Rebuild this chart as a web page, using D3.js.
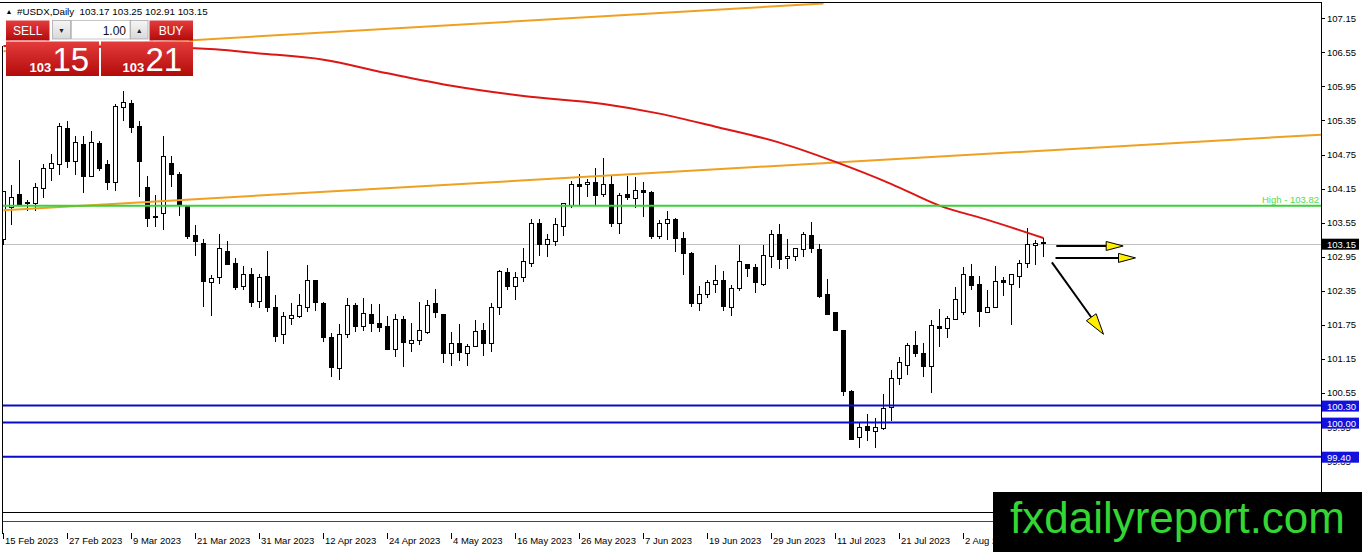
<!DOCTYPE html>
<html><head><meta charset="utf-8">
<script src="https://cdn.jsdelivr.net/npm/d3@7"></script>
<style>
html,body{margin:0;padding:0;background:#fff;overflow:hidden}
svg{display:block}
text{font-family:"Liberation Sans",Arial,sans-serif}
</style></head><body>
<svg id="c" width="1362" height="552"></svg>
<script>
// ---- data ----
const opens = [103.22,103.78,104.01,103.88,103.86,104.13,104.48,104.55,105.18,104.59,104.90,104.33,104.92,104.55,104.23,105.55,105.62,105.21,104.14,103.63,103.69,104.57,104.36,103.80,103.29,103.16,102.46,102.56,103.02,102.81,102.40,102.60,102.14,102.58,102.02,101.55,101.84,101.87,102.03,102.50,102.10,101.49,100.96,101.56,102.06,101.69,101.90,101.75,101.70,101.29,101.81,101.40,101.45,101.59,102.09,101.90,101.21,101.40,101.22,101.34,101.63,101.40,102.03,102.65,102.39,102.56,102.81,103.50,103.14,103.19,103.46,103.83,104.19,104.20,104.22,104.02,104.19,103.51,104.01,103.95,104.09,104.06,103.28,103.51,103.58,103.25,102.97,102.10,102.25,102.44,102.50,102.03,102.37,102.79,102.73,102.44,102.92,103.31,102.89,102.92,103.05,103.29,103.04,102.25,101.93,101.62,100.54,99.73,99.93,99.84,99.89,100.26,100.77,101.01,101.35,101.22,100.98,101.70,101.65,101.82,101.94,102.57,102.44,101.94,102.03,102.51,102.44,102.57,102.80,103.12,103.17];
const highs = [104.07,104.19,104.63,103.92,104.22,104.55,104.73,105.28,105.31,105.04,105.04,105.14,104.96,104.63,105.61,105.84,105.68,105.31,104.35,104.01,105.04,104.70,104.42,103.84,103.48,103.24,102.60,103.32,103.20,102.90,102.75,102.73,102.61,103.02,102.25,101.95,102.10,102.26,102.78,102.51,102.12,101.58,101.73,102.20,102.10,102.20,102.09,102.09,101.88,101.92,101.87,101.76,102.13,102.16,102.35,101.90,101.59,101.74,101.39,101.80,101.76,102.10,102.68,102.72,102.66,103.07,103.58,103.58,103.32,103.60,103.87,104.26,104.38,104.29,104.48,104.66,104.36,104.04,104.34,104.32,104.24,104.07,103.56,103.72,103.60,103.35,103.01,102.40,102.51,102.77,102.67,102.43,103.13,102.80,102.79,103.12,103.39,103.49,103.24,103.08,103.35,103.53,103.14,102.53,101.93,101.63,100.58,99.99,100.15,100.09,100.51,100.93,101.16,101.41,101.62,101.41,101.81,102.00,101.88,102.38,102.74,102.80,102.58,102.34,102.76,102.56,102.62,102.87,103.42,103.22,103.25];
const lows = [103.13,103.48,103.81,103.72,103.72,103.96,104.26,104.36,104.49,104.36,104.04,104.32,104.43,104.10,104.07,105.31,105.10,103.98,103.44,103.45,103.40,104.14,103.64,103.24,102.94,102.03,101.87,102.44,102.78,102.34,102.34,102.03,102.02,101.94,101.42,101.38,101.71,101.84,101.95,101.96,101.42,100.81,100.75,101.49,101.59,101.62,101.59,101.60,101.27,101.15,100.98,101.24,101.37,101.56,101.84,101.05,101.00,101.08,100.99,101.33,101.18,101.25,101.89,102.34,102.16,102.48,102.74,102.94,102.91,103.11,103.29,103.78,103.83,103.98,103.83,103.97,103.45,103.32,103.92,103.78,103.62,103.23,103.23,103.21,103.01,102.60,102.04,101.96,102.20,102.28,101.97,101.87,102.32,102.56,102.28,102.41,102.73,102.71,102.71,102.85,102.91,102.98,102.19,101.91,101.62,100.46,99.70,99.55,99.67,99.55,99.87,100.02,100.67,100.84,101.15,100.81,100.52,101.33,101.49,101.81,101.90,102.33,101.69,101.93,102.02,102.23,101.72,102.37,102.72,102.78,102.91];
const closes = [104.07,103.97,103.84,103.85,104.14,104.48,104.57,105.21,104.60,104.94,104.33,104.94,104.48,104.22,105.57,105.64,105.20,104.59,103.59,103.62,104.69,104.37,103.83,103.28,103.18,102.49,102.54,103.07,102.79,102.38,102.61,102.12,102.56,102.03,101.52,101.86,101.89,102.06,102.51,102.12,101.49,100.97,101.55,102.06,101.69,101.92,101.75,101.68,101.28,101.81,101.41,101.44,101.63,102.07,101.93,101.22,101.40,101.24,101.34,101.60,101.40,102.03,102.66,102.40,102.56,102.84,103.51,103.13,103.22,103.48,103.86,104.19,104.16,104.23,104.00,104.19,103.51,103.99,103.97,104.09,104.06,103.27,103.51,103.58,103.25,102.98,102.09,102.26,102.46,102.50,102.04,102.36,102.83,102.72,102.47,102.94,103.32,102.88,102.93,103.06,103.32,103.07,102.22,101.91,101.62,100.55,99.71,99.92,99.87,99.92,100.24,100.78,101.05,101.35,101.21,100.99,101.71,101.66,101.84,102.17,102.60,102.41,101.96,102.03,102.48,102.46,102.60,102.81,103.13,103.16,103.15];

const maBars   = [0, 24, 32, 40, 48, 56, 65, 75, 82, 89, 97, 104, 111, 117, 123, 130];
const maValues = [106.63,106.59,106.50,106.39,106.15,105.93,105.75,105.61,105.44,105.21,104.93,104.59,104.20,103.82,103.57,103.25];

const priceTicks = [107.15,106.55,105.95,105.35,104.75,104.15,103.55,102.95,102.35,101.75,101.15,100.55,99.95,99.35];
const timeLabels = ["15 Feb 2023","27 Feb 2023","9 Mar 2023","21 Mar 2023","31 Mar 2023","12 Apr 2023","24 Apr 2023","4 May 2023","16 May 2023","26 May 2023","7 Jun 2023","19 Jun 2023","29 Jun 2023","11 Jul 2023","21 Jul 2023","2 Aug 2023"];
const timeLabelBars = [0,8,16,24,32,40,48,56,64,72,80,88,96,104,112,120];

const supportLevels = [100.30, 100.00, 99.40];
const highLevel = 103.82;
const lastPrice = 103.15;
const trendUpper = [[0,106.54],[102.5,107.38]];
const trendLower = [[0,103.74],[164.7,105.07]];
const arrowsData = [[131.6,103.11,139.96,103.11],[131.5,102.90,141.5,102.90],[131.05,102.82,137.5,101.555]];
const header = "#USDX,Daily  103.17 103.25 102.91 103.15";

// ---- scales ----
const svg = d3.select('#c');
const x = d3.scaleLinear().domain([0,130]).range([3.5,1043.5]);
const y = d3.scaleLinear().domain([107.15,99.35]).range([16.5,16.5+7.8*56.8]);

const defs = svg.append('defs');
defs.append('clipPath').attr('id','plot').append('rect').attr('x',3).attr('y',3).attr('width',1318).attr('height',509);
const gr = defs.append('linearGradient').attr('id','red').attr('x1',0).attr('y1',0).attr('x2',0).attr('y2',1);
gr.append('stop').attr('offset','0%').attr('stop-color','#e43c3c');
gr.append('stop').attr('offset','100%').attr('stop-color','#b30a0a');
const gg = defs.append('linearGradient').attr('id','gry').attr('x1',0).attr('y1',0).attr('x2',0).attr('y2',1);
gg.append('stop').attr('offset','0%').attr('stop-color','#f6f6f6');
gg.append('stop').attr('offset','100%').attr('stop-color','#d8d8d8');

const plot = svg.append('g').attr('clip-path','url(#plot)');

// bid line
plot.append('line').attr('x1',3).attr('x2',1321).attr('y1',Math.round(y(lastPrice))+0.5).attr('y2',Math.round(y(lastPrice))+0.5)
  .attr('stroke','#c0c0c0').attr('stroke-width',1);

// candles
const idx = d3.range(opens.length);
const cg = plot.append('g').attr('shape-rendering','crispEdges');
cg.selectAll('line.w').data(idx).join('line').attr('class','w')
  .attr('x1',i=>x(i)).attr('x2',i=>x(i))
  .attr('y1',i=>y(highs[i])).attr('y2',i=>y(lows[i]))
  .attr('stroke','#000').attr('stroke-width',1);
cg.selectAll('rect.b').data(idx).join('rect').attr('class','b')
  .attr('x',i=>x(i)-2).attr('width',4)
  .attr('y',i=>y(Math.max(opens[i],closes[i])))
  .attr('height',i=>Math.max(1,Math.abs(y(opens[i])-y(closes[i]))))
  .attr('fill',i=>closes[i]>=opens[i]?'#fff':'#000')
  .attr('stroke','#000').attr('stroke-width',1);

// trend lines
const ln = d3.line().x(d=>x(d[0])).y(d=>y(d[1]));
plot.append('path').attr('d',ln(trendUpper)).attr('fill','none').attr('stroke','#f0a020').attr('stroke-width',2);
plot.append('path').attr('d',ln(trendLower)).attr('fill','none').attr('stroke','#f0a020').attr('stroke-width',2);

// moving average
const ma = maBars.map((b,k)=>[b,maValues[k]]);
plot.append('path').attr('d',d3.line().x(d=>x(d[0])).y(d=>y(d[1])).curve(d3.curveMonotoneX)(ma))
  .attr('fill','none').attr('stroke','#dd1515').attr('stroke-width',2);

// high level
plot.append('line').attr('x1',3).attr('x2',1321).attr('y1',y(highLevel)).attr('y2',y(highLevel))
  .attr('stroke','#3ad23a').attr('stroke-width',2);
svg.append('text').attr('x',1319).attr('y',y(highLevel)-2.5).attr('text-anchor','end')
  .attr('font-size',9.5).attr('fill','#4fdc4f').text('High - ' + highLevel.toFixed(2));

// support levels
plot.selectAll('line.s').data(supportLevels).join('line').attr('class','s')
  .attr('x1',3).attr('x2',1321).attr('y1',d=>y(d)).attr('y2',d=>y(d))
  .attr('stroke','#0a0ac8').attr('stroke-width',2);

// arrows
arrowsData.forEach((a,k)=>{
  const x1=x(a[0]),y1=y(a[1]),x2=x(a[2]),y2=y(a[3]);
  const dx=x2-x1,dy=y2-y1,L=Math.hypot(dx,dy),ux=dx/L,uy=dy/L;
  const hl = k===2?21:17, hw = k===2?6:4.5;
  const bx=x2-ux*hl, by=y2-uy*hl;
  svg.append('line').attr('x1',x1).attr('y1',y1).attr('x2',bx).attr('y2',by).attr('stroke','#000').attr('stroke-width',2);
  svg.append('path').attr('d',`M${x2},${y2}L${bx-uy*hw},${by+ux*hw}L${bx+uy*hw},${by-ux*hw}Z`)
    .attr('fill','#ffee00').attr('stroke','#000').attr('stroke-width',1);
});

// frame
const fr = svg.append('g').attr('shape-rendering','crispEdges').attr('stroke','#000').attr('stroke-width',1);
fr.append('line').attr('x1',0).attr('x2',1322).attr('y1',2.5).attr('y2',2.5);
fr.append('line').attr('x1',2.5).attr('x2',2.5).attr('y1',46).attr('y2',534);
fr.append('line').attr('x1',1321.5).attr('x2',1321.5).attr('y1',2).attr('y2',534);
fr.append('line').attr('x1',3).attr('x2',1321).attr('y1',512.5).attr('y2',512.5);
svg.append('line').attr('x1',3).attr('x2',1321).attr('y1',521.5).attr('y2',521.5).attr('stroke','#c81010').attr('stroke-width',1).attr('shape-rendering','crispEdges');

// price axis
const ax = svg.append('g');
const tagged = [lastPrice].concat(supportLevels);
priceTicks.forEach(v=>{
  const yy = y(v)+1.7;
  ax.append('line').attr('x1',1321).attr('x2',1325).attr('y1',Math.round(yy)+0.5).attr('y2',Math.round(yy)+0.5).attr('stroke','#000').attr('shape-rendering','crispEdges');
  // labels that sit right under a level tag show only their lower sliver, as in the reference
  const hidden = tagged.find(t=>Math.abs(y(t)-y(v))<8);
  const t = ax.append('text').attr('x',1327).attr('y',yy+3.4).attr('font-size',9.5).attr('fill','#000').text(v.toFixed(2));
  if (hidden!==undefined){
    const id='cl'+String(v).replace('.','_');
    defs.append('clipPath').attr('id',id).append('rect').attr('x',1322).attr('y',y(hidden)+6).attr('width',40).attr('height',4);
    t.attr('clip-path',`url(#${id})`);
  }
});
function tag(v,bg){
  const yy=y(v)+0.5;
  ax.append('rect').attr('x',1322).attr('y',yy-5.5).attr('width',37).attr('height',11).attr('fill',bg);
  ax.append('text').attr('x',1327).attr('y',yy+3.5).attr('font-size',9.5).attr('fill','#fff').text(v.toFixed(2));
}
tag(lastPrice,'#000');
supportLevels.forEach(v=>tag(v,'#1212dc'));

// time axis
timeLabels.forEach((t,k)=>{
  const xx = x(timeLabelBars[k]);
  svg.append('line').attr('x1',Math.round(xx)-0.5).attr('x2',Math.round(xx)-0.5).attr('y1',533).attr('y2',539).attr('stroke','#000').attr('shape-rendering','crispEdges');
  svg.append('text').attr('x',xx+1.5).attr('y',544).attr('font-size',9.5).attr('fill','#000').text(t);
});

// header
svg.append('text').attr('x',5.5).attr('y',13.5).attr('font-size',7).attr('fill','#000').text('▲');
svg.append('text').attr('x',17).attr('y',14.5).attr('font-size',9.8).attr('fill','#000').attr('xml:space','preserve').text(header);

// one-click trading panel
const p = svg.append('g');
p.append('rect').attr('x',6).attr('y',20.5).attr('width',43.5).attr('height',20).attr('fill','url(#red)');
p.append('rect').attr('x',149.5).attr('y',20.5).attr('width',43.5).attr('height',20).attr('fill','url(#red)');
p.append('rect').attr('x',6).attr('y',41.5).attr('width',93).attr('height',34.5).attr('fill','url(#red)');
p.append('rect').attr('x',101).attr('y',41.5).attr('width',92).attr('height',34.5).attr('fill','url(#red)');
p.append('line').attr('x1',10).attr('x2',46).attr('y1',41).attr('y2',41).attr('stroke','#f3b0b0').attr('stroke-width',0.8);
p.append('line').attr('x1',153).attr('x2',189).attr('y1',41).attr('y2',41).attr('stroke','#f3b0b0').attr('stroke-width',0.8);
p.append('rect').attr('x',52.5).attr('y',20.5).attr('width',18).attr('height',18.5).attr('fill','url(#gry)').attr('stroke','#a8a8a8').attr('stroke-width',0.8);
p.append('rect').attr('x',71.5).attr('y',20.5).attr('width',58.5).attr('height',18.5).attr('fill','#fff').attr('stroke','#b8b8b8').attr('stroke-width',0.8);
p.append('rect').attr('x',130.5).attr('y',20.5).attr('width',17.5).attr('height',18.5).attr('fill','url(#gry)').attr('stroke','#a8a8a8').attr('stroke-width',0.8);
p.append('text').attr('x',61.5).attr('y',32.5).attr('text-anchor','middle').attr('font-size',7).attr('fill','#222').text('▼');
p.append('text').attr('x',139.3).attr('y',32.5).attr('text-anchor','middle').attr('font-size',7).attr('fill','#222').text('▲');
p.append('text').attr('x',126).attr('y',34.5).attr('text-anchor','end').attr('font-size',12).attr('fill','#111').text('1.00');
p.append('text').attr('x',27.7).attr('y',35).attr('text-anchor','middle').attr('font-size',12).attr('fill','#fff').text('SELL');
p.append('text').attr('x',171).attr('y',35).attr('text-anchor','middle').attr('font-size',12).attr('fill','#fff').text('BUY');
p.append('text').attr('x',29.5).attr('y',71.5).attr('font-size',13).attr('font-weight','bold').attr('fill','#fff').text('103');
p.append('text').attr('x',52.5).attr('y',70.5).attr('font-size',33).attr('fill','#fff').text('15');
p.append('text').attr('x',122.5).attr('y',71.5).attr('font-size',13).attr('font-weight','bold').attr('fill','#fff').text('103');
p.append('text').attr('x',145.5).attr('y',70.5).attr('font-size',33).attr('fill','#fff').text('21');

// watermark
svg.append('rect').attr('x',993).attr('y',492).attr('width',369).attr('height',60).attr('fill','#000');
svg.append('text').attr('x',1010).attr('y',533).attr('font-size',44).attr('fill','#33d633').attr('textLength',335).attr('lengthAdjust','spacingAndGlyphs').text('fxdailyreport.com');
</script>
</body></html>
